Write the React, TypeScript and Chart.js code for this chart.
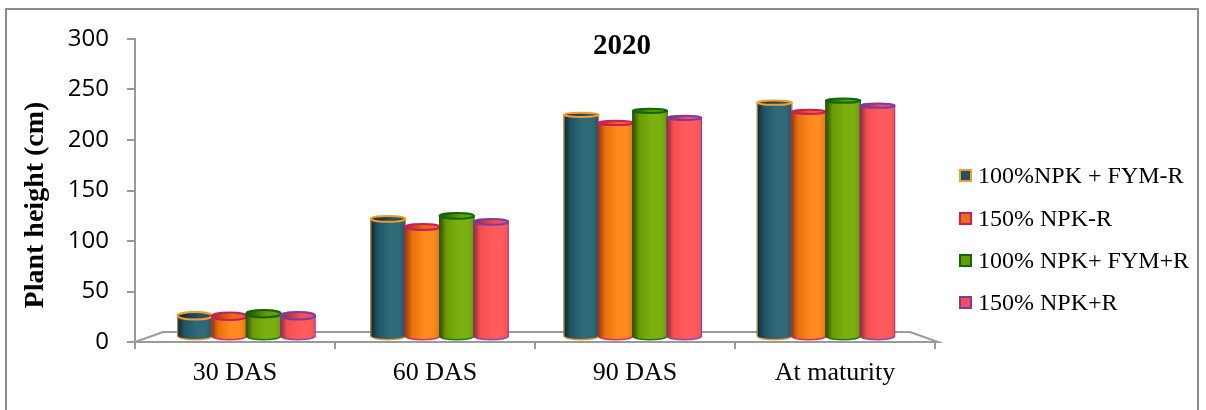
import React, { useEffect, useRef } from "react";
import { Chart, registerables } from "chart.js";

Chart.register(...registerables);

// Growth stages on the category axis
const categories = ["30 DAS", "60 DAS", "90 DAS", "At maturity"];

// Treatment names
const seriesNames = ["100%NPK + FYM-R", "150% NPK-R", "100% NPK+ FYM+R", "150% NPK+R"];

// Plant height (cm) per treatment at each stage
const npkFymMinusR = [21, 117, 220, 232];
const npk150MinusR = [20.5, 109, 212, 223];
const npkFymPlusR = [23, 120, 224, 234];
const npk150PlusR = [21, 114, 217, 229];

// Value axis ticks
const yTicks = [0, 50, 100, 150, 200, 250, 300];

const seriesValues = [npkFymMinusR, npk150MinusR, npkFymPlusR, npk150PlusR];

// Cylinder colours: body base, shaded side, highlight, rim outline
const fills = ["#1f5463", "#e8700c", "#6b9a04", "#f64e52"];
const darks = ["#0c2630", "#8c3c02", "#2c4800", "#8a2a32"];
const lights = ["#2f6a79", "#ff8a1e", "#7ab010", "#ff5a5c"];
const borders = ["#f79a2a", "#d4166a", "#0a6a0a", "#7a3caa"];

const VANISH_X = 570;
const DEPTH_SHIFT = 0.034;
const LIFT = 5;

function rimRadius(y: number) {
  return Math.max(1.5, 1.6 + 0.0075 * (y - 40));
}

function drawCylinder(ctx: CanvasRenderingContext2D, cx: number, top: number, base: number, w: number, s: number) {
  const rx = w / 2;
  const left = cx - rx;
  const right = cx + rx;
  const ryTop = rimRadius(top);
  const ryBase = rimRadius(base);

  const g = ctx.createLinearGradient(left, 0, right, 0);
  g.addColorStop(0, darks[s]);
  g.addColorStop(0.2, fills[s]);
  g.addColorStop(0.55, lights[s]);
  g.addColorStop(0.82, lights[s]);
  g.addColorStop(1, fills[s]);

  // body
  ctx.beginPath();
  ctx.moveTo(left, top);
  ctx.lineTo(left, base);
  ctx.ellipse(cx, base, rx, ryBase, 0, Math.PI, 0, true);
  ctx.lineTo(right, top);
  ctx.ellipse(cx, top, rx, ryTop, 0, 0, Math.PI, true);
  ctx.closePath();
  ctx.fillStyle = g;
  ctx.fill();

  // side edges and bottom rim
  ctx.strokeStyle = borders[s];
  ctx.globalAlpha = 0.85;
  ctx.lineWidth = 1;
  ctx.beginPath();
  ctx.moveTo(left + 0.5, top);
  ctx.lineTo(left + 0.5, base);
  ctx.moveTo(right - 0.5, top);
  ctx.lineTo(right - 0.5, base);
  ctx.stroke();
  ctx.lineWidth = 1.5;
  ctx.beginPath();
  ctx.ellipse(cx, base, rx - 0.5, ryBase, 0, Math.PI, 0, true);
  ctx.stroke();
  ctx.globalAlpha = 1;

  // top cap
  ctx.beginPath();
  ctx.ellipse(cx, top, rx - 0.5, ryTop, 0, 0, Math.PI * 2);
  const cg = ctx.createLinearGradient(left, 0, right, 0);
  cg.addColorStop(0, darks[s]);
  cg.addColorStop(0.6, fills[s]);
  cg.addColorStop(1, fills[s]);
  ctx.fillStyle = cg;
  ctx.fill();
  ctx.lineWidth = 2;
  ctx.strokeStyle = borders[s];
  ctx.stroke();
}

const cylinderPlugin = {
  id: "cylinders",
  beforeDatasetsDraw(chart: any) {
    const { ctx, chartArea: ca } = chart;
    ctx.save();

    // 3-D floor
    ctx.strokeStyle = "#9a9a9a";
    ctx.lineWidth = 2;
    ctx.beginPath();
    ctx.moveTo(ca.left, ca.bottom);
    ctx.lineTo(ca.right + 3, ca.bottom);
    ctx.lineTo(ca.right - 25, ca.bottom - 10);
    ctx.lineTo(ca.left + 28, ca.bottom - 10);
    ctx.closePath();
    ctx.stroke();

    const metas = chart.data.datasets.map((_: any, i: number) => chart.getDatasetMeta(i));
    for (let j = 0; j < categories.length; j++) {
      for (let i = 0; i < metas.length; i++) {
        const el = metas[i].data[j];
        if (!el) continue;
        const { x, y, base, width } = el.getProps(["x", "y", "base", "width"], true);
        const dx = DEPTH_SHIFT * (VANISH_X - x);
        drawCylinder(ctx, x + dx, y - LIFT, base - LIFT, width, i);
      }
    }
    ctx.restore();
    return false;
  },
  afterDraw(chart: any) {
    const { ctx } = chart;
    ctx.save();
    ctx.fillStyle = "#000";
    ctx.textAlign = "center";
    ctx.textBaseline = "middle";
    ctx.font = "bold 29px 'Liberation Serif'";
    ctx.fillText("2020", 622, 47);

    ctx.translate(36, 205);
    ctx.rotate(-Math.PI / 2);
    ctx.font = "bold 28px 'Liberation Serif'";
    ctx.fillText("Plant height (cm)", 0, 0);
    ctx.restore();
  },
};

export default function App() {
  const ref = useRef<HTMLCanvasElement>(null);

  useEffect(() => {
    const canvas = ref.current;
    if (!canvas) return;
    const chart = new Chart(canvas, {
      type: "bar",
      data: {
        labels: categories,
        datasets: seriesValues.map((d, i) => ({
          label: seriesNames[i],
          data: d,
          backgroundColor: fills[i],
          borderColor: borders[i],
        })),
      },
      options: {
        responsive: false,
        animation: false,
        devicePixelRatio: 1,
        layout: { padding: { top: 39, right: 271, left: 0, bottom: 0 } },
        datasets: { bar: { categoryPercentage: 0.71, barPercentage: 1 } },
        plugins: {
          legend: { display: false },
          title: { display: false },
          tooltip: { enabled: false },
        },
        scales: {
          x: {
            grid: {
              display: true,
              drawOnChartArea: false,
              drawTicks: true,
              tickLength: 7,
              color: "#9a9a9a",
              lineWidth: 2,
              offset: true,
            },
            border: { display: false },
            ticks: {
              color: "#000",
              font: { family: "'Liberation Serif'", size: 26 },
              padding: 9,
              maxRotation: 0,
              autoSkip: false,
            },
            afterFit: (s: any) => {
              s.height = 68;
            },
          },
          y: {
            min: 0,
            max: 300,
            afterBuildTicks: (s: any) => {
              s.ticks = yTicks.map((v) => ({ value: v }));
            },
            ticks: {
              color: "#000",
              font: { family: "'Open Sans'", size: 24 },
              padding: 18,
            },
            grid: {
              drawOnChartArea: false,
              tickLength: 8,
              color: "#9a9a9a",
              lineWidth: 2,
            },
            border: { display: true, color: "#9a9a9a", width: 2 },
            afterFit: (s: any) => {
              s.width = 135;
            },
          },
        },
      },
      plugins: [cylinderPlugin],
    } as any);
    return () => chart.destroy();
  }, []);

  const legendTops = [175, 218, 260, 302];

  return (
    <div style={{ position: "fixed", left: 0, top: 0, width: 1206, height: 410, background: "#fff", overflow: "hidden" }}>
      <div
        style={{
          position: "absolute",
          left: 5,
          top: 8,
          width: 1194,
          height: 420,
          border: "2px solid #8c8c8c",
          boxSizing: "border-box",
        }}
      />
      <canvas ref={ref} width={1206} height={410} style={{ position: "absolute", left: 0, top: 0, width: 1206, height: 410 }} />
      {seriesNames.map((name, i) => (
        <div
          key={name}
          style={{
            position: "absolute",
            left: 959,
            top: legendTops[i] - 15,
            height: 30,
            display: "flex",
            alignItems: "center",
            fontFamily: "'Liberation Serif'",
            fontSize: 24,
            color: "#000",
            whiteSpace: "pre",
          }}
        >
          <span
            style={{
              display: "inline-block",
              width: 13,
              height: 13,
              boxSizing: "border-box",
              background: fills[i],
              border: `2px solid ${borders[i]}`,
              marginRight: 6,
            }}
          />
          <span>{name}</span>
        </div>
      ))}
    </div>
  );
}
